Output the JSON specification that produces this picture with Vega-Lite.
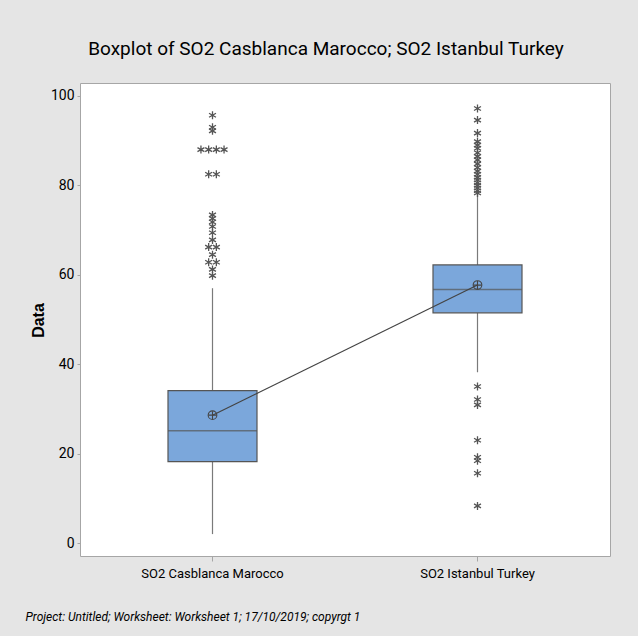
{
  "$schema": "https://vega.github.io/schema/vega-lite/v6.json",
  "autosize": "none",
  "width": 530,
  "height": 473,
  "padding": {"left": 80, "top": 83, "right": 28, "bottom": 80},
  "background": "#e5e5e5",
  "config": {
    "view": {"fill": "white", "stroke": "#a6a6a6", "strokeWidth": 1},
    "font": "Roboto, sans-serif"
  },
  "title": {
    "text": "Boxplot of SO2 Casblanca Marocco; SO2 Istanbul Turkey",
    "font": "Roboto, sans-serif",
    "fontSize": 19,
    "fontWeight": "normal",
    "color": "#000000",
    "anchor": "middle",
    "dx": -19,
    "offset": 24
  },
  "datasets": {
    "summary": [
      {"group": "SO2 Casblanca Marocco", "q1": 18.2, "q3": 34.1, "median": 25.1, "mean": 28.6, "lo": 2.0, "hi": 57.0},
      {"group": "SO2 Istanbul Turkey", "q1": 51.5, "q3": 62.2, "median": 56.7, "mean": 57.7, "lo": 38.2, "hi": 77.9}
    ],
    "outliers": [
      {"group": "SO2 Casblanca Marocco", "value": 95.7},
      {"group": "SO2 Casblanca Marocco", "value": 93.0},
      {"group": "SO2 Casblanca Marocco", "value": 92.2},
      {"group": "SO2 Casblanca Marocco", "value": 88.0},
      {"group": "SO2 Casblanca Marocco", "value": 88.0},
      {"group": "SO2 Casblanca Marocco", "value": 88.0},
      {"group": "SO2 Casblanca Marocco", "value": 88.0},
      {"group": "SO2 Casblanca Marocco", "value": 82.5},
      {"group": "SO2 Casblanca Marocco", "value": 82.5},
      {"group": "SO2 Casblanca Marocco", "value": 73.4},
      {"group": "SO2 Casblanca Marocco", "value": 72.6},
      {"group": "SO2 Casblanca Marocco", "value": 71.8},
      {"group": "SO2 Casblanca Marocco", "value": 70.8},
      {"group": "SO2 Casblanca Marocco", "value": 69.4},
      {"group": "SO2 Casblanca Marocco", "value": 67.8},
      {"group": "SO2 Casblanca Marocco", "value": 66.2},
      {"group": "SO2 Casblanca Marocco", "value": 66.2},
      {"group": "SO2 Casblanca Marocco", "value": 64.5},
      {"group": "SO2 Casblanca Marocco", "value": 62.8},
      {"group": "SO2 Casblanca Marocco", "value": 62.8},
      {"group": "SO2 Casblanca Marocco", "value": 61.2},
      {"group": "SO2 Casblanca Marocco", "value": 59.8},
      {"group": "SO2 Istanbul Turkey", "value": 97.2},
      {"group": "SO2 Istanbul Turkey", "value": 94.6},
      {"group": "SO2 Istanbul Turkey", "value": 91.7},
      {"group": "SO2 Istanbul Turkey", "value": 89.8},
      {"group": "SO2 Istanbul Turkey", "value": 89.0},
      {"group": "SO2 Istanbul Turkey", "value": 88.3},
      {"group": "SO2 Istanbul Turkey", "value": 87.3},
      {"group": "SO2 Istanbul Turkey", "value": 86.5},
      {"group": "SO2 Istanbul Turkey", "value": 85.7},
      {"group": "SO2 Istanbul Turkey", "value": 84.8},
      {"group": "SO2 Istanbul Turkey", "value": 84.0},
      {"group": "SO2 Istanbul Turkey", "value": 83.2},
      {"group": "SO2 Istanbul Turkey", "value": 82.5},
      {"group": "SO2 Istanbul Turkey", "value": 81.8},
      {"group": "SO2 Istanbul Turkey", "value": 81.2},
      {"group": "SO2 Istanbul Turkey", "value": 80.6},
      {"group": "SO2 Istanbul Turkey", "value": 80.0},
      {"group": "SO2 Istanbul Turkey", "value": 79.4},
      {"group": "SO2 Istanbul Turkey", "value": 78.8},
      {"group": "SO2 Istanbul Turkey", "value": 78.3},
      {"group": "SO2 Istanbul Turkey", "value": 35.0},
      {"group": "SO2 Istanbul Turkey", "value": 32.1},
      {"group": "SO2 Istanbul Turkey", "value": 30.9},
      {"group": "SO2 Istanbul Turkey", "value": 23.0},
      {"group": "SO2 Istanbul Turkey", "value": 19.2},
      {"group": "SO2 Istanbul Turkey", "value": 18.4},
      {"group": "SO2 Istanbul Turkey", "value": 15.6},
      {"group": "SO2 Istanbul Turkey", "value": 8.3}
    ]
  },
  "encoding": {
    "x": {
      "field": "group",
      "type": "nominal",
      "scale": {"domain": ["SO2 Casblanca Marocco", "SO2 Istanbul Turkey"], "paddingInner": 0, "paddingOuter": 0},
      "axis": {
        "title": "Project: Untitled; Worksheet: Worksheet 1; 17/10/2019; copyrgt 1",
        "titleFont": "Roboto, sans-serif",
        "titleFontStyle": "italic",
        "titleFontWeight": "normal",
        "titleFontSize": 12,
        "titleColor": "#000000",
        "titleAnchor": "start",
        "titleAlign": "left",
        "titleBaseline": "middle",
        "titleX": -55,
        "titleY": 60,
        "labelAngle": 0,
        "labelFont": "Roboto, sans-serif",
        "labelFontSize": 13,
        "labelColor": "#000000",
        "labelPadding": 6,
        "tickSize": 5,
        "tickColor": "#a6a6a6",
        "domain": false
      }
    }
  },
  "layer": [
    {
      "data": {"name": "summary"},
      "mark": {"type": "rule", "color": "#7a7a7a", "strokeWidth": 1.2},
      "encoding": {
        "y": {"field": "lo", "type": "quantitative"},
        "y2": {"field": "q1"}
      }
    },
    {
      "data": {"name": "summary"},
      "mark": {"type": "rule", "color": "#7a7a7a", "strokeWidth": 1.2},
      "encoding": {
        "y": {"field": "q3", "type": "quantitative"},
        "y2": {"field": "hi"}
      }
    },
    {
      "data": {"name": "summary"},
      "mark": {"type": "bar", "width": 89, "fill": "#7ba7db", "stroke": "#555555", "strokeWidth": 1.2},
      "encoding": {
        "y": {
          "field": "q1",
          "type": "quantitative",
          "scale": {"domain": [-2.9, 102.9], "nice": false, "zero": false},
          "axis": {
            "title": "Data",
            "titleFont": "Liberation Sans, Arial, sans-serif",
            "titleFontSize": 16,
            "titleFontWeight": "bold",
            "titleColor": "#000000",
            "titleAngle": -90,
            "titleX": -42,
            "titleY": 237,
            "titleAlign": "center",
            "titleBaseline": "middle",
            "values": [0, 20, 40, 60, 80, 100],
            "labelFont": "Roboto, sans-serif",
            "labelFontSize": 14,
            "labelColor": "#000000",
            "labelPadding": 3,
            "tickSize": 3,
            "tickColor": "#a6a6a6",
            "grid": false,
            "domain": false
          }
        },
        "y2": {"field": "q3"}
      }
    },
    {
      "data": {"name": "summary"},
      "mark": {"type": "tick", "size": 89, "thickness": 1.5, "color": "#555555"},
      "encoding": {"y": {"field": "median", "type": "quantitative"}}
    },
    {
      "data": {"name": "summary"},
      "mark": {"type": "line", "color": "#444444", "strokeWidth": 1.2},
      "encoding": {"y": {"field": "mean", "type": "quantitative"}}
    },
    {
      "data": {"name": "summary"},
      "mark": {"type": "point", "shape": "circle", "size": 75, "filled": false, "color": "#444444", "strokeWidth": 1.1, "opacity": 1},
      "encoding": {"y": {"field": "mean", "type": "quantitative"}}
    },
    {
      "data": {"name": "summary"},
      "mark": {"type": "point", "shape": "M-1,0L1,0M0,-1L0,1", "size": 64, "filled": false, "color": "#444444", "strokeWidth": 1.1, "opacity": 1},
      "encoding": {"y": {"field": "mean", "type": "quantitative"}}
    },
    {
      "data": {"name": "outliers"},
      "transform": [
        {"window": [{"op": "row_number", "as": "k"}, {"op": "count", "as": "n"}], "groupby": ["group", "value"], "frame": [null, null]},
        {"calculate": "datum.k - (datum.n + 1) / 2", "as": "off"}
      ],
      "mark": {"type": "point", "shape": "M0,-1L0,1M-0.87,-0.5L0.87,0.5M-0.87,0.5L0.87,-0.5", "size": 64, "filled": false, "color": "#555555", "strokeWidth": 1.3, "opacity": 1},
      "encoding": {
        "y": {"field": "value", "type": "quantitative"},
        "xOffset": {"field": "off", "type": "quantitative", "scale": {"domain": [-2, 2], "range": [117.1, 147.9]}}
      }
    }
  ]
}
